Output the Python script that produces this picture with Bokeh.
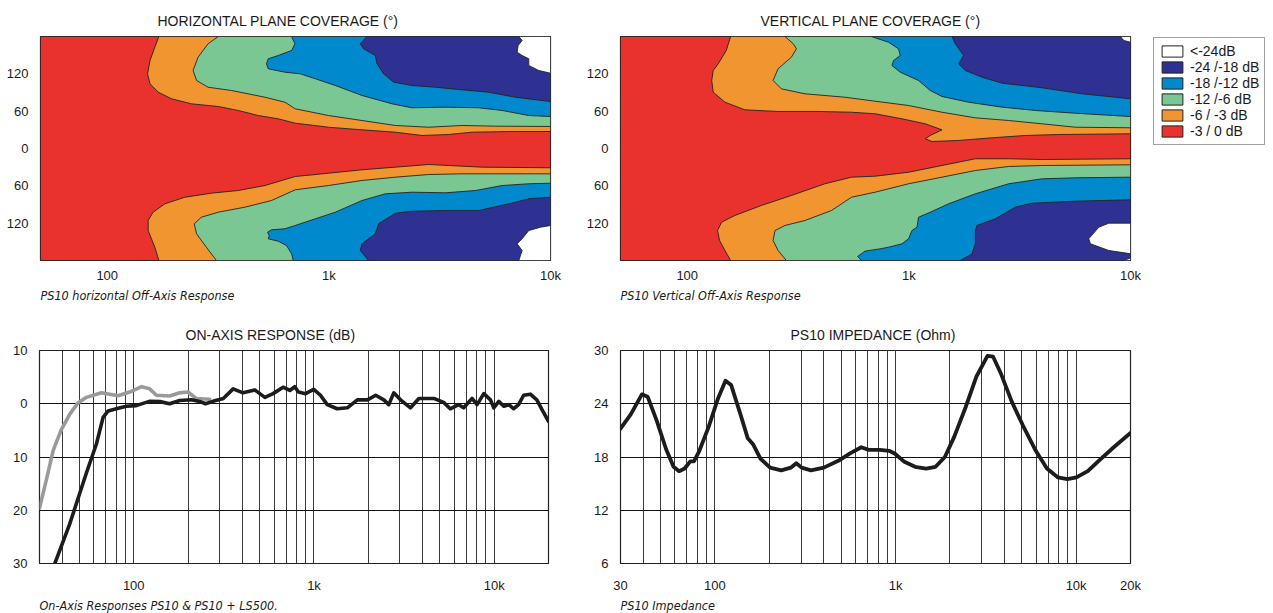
from bokeh.plotting import figure
from bokeh.models import Range1d, FixedTicker, Title, Legend, LegendItem
from bokeh.layouts import column, row
from bokeh.embed import file_html
from bokeh.resources import INLINE

FONT = "Liberation Sans"
CAP_FONT = "DejaVu Sans Condensed"
TXT = "#1a1a1a"

# ---------------- colours of the coverage bands ----------------
RED, ORANGE, GREEN, BLUE, DKBLUE, WHITE = "#E9322E", "#F19530", "#7BC794", "#0089CC", "#2E3192", "#FFFFFF"
LEGEND_LABELS = ["<-24dB", "-24 /-18 dB", "-18 /-12 dB", "-12 /-6 dB", "-6 / -3 dB", "-3 / 0 dB"]
LEGEND_COLORS = [WHITE, DKBLUE, BLUE, GREEN, ORANGE, RED]

COV_F_RANGE = (50, 10000)
COV_A_RANGE = (-180, 180)
COV_X_TICKS = [100, 1000, 10000]
COV_X_LABELS = ["100", "1k", "10k"]
COV_Y_TICKS = [-120, -60, 0, 60, 120]
COV_Y_LABELS = ["120", "60", "0", "60", "120"]

# ---------------- horizontal plane: band boundaries (Hz, degrees) ----------------
H_UP3_F = [171, 164, 156, 152, 156, 170, 195, 240, 317, 390, 480, 591, 705, 997, 1411, 1995, 2633, 3472, 4429, 6712, 10000]
H_UP3_A = [180, 162.8, 141.4, 120, 104, 90.5, 79.9, 71.8, 67.5, 61.1, 53, 47.7, 40.7, 34.2, 30, 26.2, 20.9, 22.5, 26.2, 27.3, 27.3]
H_LO3_F = [171, 164, 153, 153, 161, 182, 224, 295, 390, 515, 705, 997, 1411, 1995, 2820, 3472, 4914, 10000]
H_LO3_A = [-180, -158.6, -131.8, -115.7, -102.4, -88.9, -78.3, -71.8, -67.5, -59.5, -45, -39.7, -34.2, -30, -25.7, -27.3, -30, -31]
H_UP6_F = [317, 285, 257, 244, 253, 285, 364, 515, 634, 705, 997, 1411, 1995, 2820, 3992, 5643, 10000]
H_UP6_A = [180, 168.3, 146.7, 125.4, 109.3, 98.5, 93.2, 82.4, 74.4, 63.8, 53, 45, 37, 34.2, 37, 35.9, 35.4]
H_LO6_F = [311, 280, 253, 247, 266, 317, 418, 551, 705, 997, 1411, 1995, 2820, 3992, 5643, 10000]
H_LO6_A = [-180, -158.6, -137.1, -121, -110.4, -102.4, -94.3, -83.6, -66.4, -59.5, -51.4, -46.1, -41.8, -40.7, -40.7, -40.7]
H_UP12_F = [679, 703, 679, 591, 533, 523, 533, 634, 743, 869, 1069, 1411, 1928, 2373, 3355, 4745, 6050, 7978, 10000]
H_UP12_A = [180, 168.3, 157.5, 149.5, 144.2, 136.1, 128.1, 122.6, 120, 112, 101.3, 85.2, 71.8, 65.4, 66.4, 65.4, 61.1, 53, 51.4]
H_LO12_F = [691, 679, 644, 591, 533, 538, 529, 551, 634, 705, 869, 1069, 1411, 1797, 2373, 3355, 4584, 6050, 7978, 10000]
H_LO12_A = [-180, -169.2, -155.9, -149, -145.1, -139.8, -134.5, -130.7, -129, -123.7, -113, -102.4, -83.6, -72.8, -70.2, -71.2, -67.5, -59.5, -56.7, -55.8]
H_UP18_F = [1486, 1386, 1435, 1620, 1650, 1766, 1960, 2373, 3024, 3992, 5263, 6946, 10000]
H_UP18_A = [180, 168.3, 160.2, 149.5, 136.1, 120, 106.6, 101.3, 98.5, 94.3, 90.5, 82.4, 75.5]
H_LO18_F = [1511, 1386, 1411, 1620, 1677, 1995, 2373, 3355, 4745, 6480, 7980, 10000]
H_LO18_A = [-180, -163.9, -153.2, -137.1, -121, -104, -100.8, -99.6, -99.6, -88.9, -80.8, -78.3]
H_UP24_F = [7193, 7447, 7145, 7071, 7447, 7980, 7980, 8852, 10000]
H_UP24_A = [180, 173.6, 165.5, 154.8, 149.5, 144.2, 133.4, 125.4, 121]
H_LO24_F = [10000, 9010, 7980, 7447, 7071, 7447, 7193]
H_LO24_A = [-123.7, -126.5, -131.8, -145.1, -153.2, -163.9, -180]

# ---------------- vertical plane: band boundaries (Hz, degrees) ----------------
V_UP3_F = [157, 150, 138, 131, 129, 131, 148, 182, 257, 390, 551, 705, 931, 1186, 1411, 1249, 1186, 1272, 1677, 2373, 3355, 4745, 10000]
V_UP3_A = [180, 157.5, 136.1, 125.4, 109.3, 90.5, 74.4, 62.2, 59.5, 59.5, 58.3, 55.8, 47.7, 39.7, 30, 20.9, 15.6, 11.3, 12.9, 17.2, 20.9, 22.5, 23.6]
V_LO3_F = [157, 148, 140, 137, 143, 164, 216, 295, 418, 551, 705, 997, 1411, 1995, 2820, 3992, 10000]
V_LO3_A = [-180, -163.9, -147.9, -131.8, -118.4, -107.7, -91.6, -75.5, -56.7, -46.1, -44.5, -38.1, -27.3, -16.5, -16.5, -17.7, -16.5]
V_UP6_F = [276, 301, 311, 295, 257, 244, 266, 340, 515, 705, 997, 1411, 1995, 2820, 3992, 5643, 10000]
V_UP6_A = [180, 168.3, 160.2, 146.7, 128.1, 109.3, 95.9, 87.9, 82.4, 76, 69.1, 58.3, 49.3, 45, 39.7, 34.2, 33.3]
V_LO6_F = [280, 257, 244, 249, 276, 340, 448, 551, 705, 997, 1411, 1995, 2820, 3992, 10000]
V_LO6_A = [-180, -163.9, -147.9, -131.8, -123.7, -115.7, -99.6, -78.3, -70.2, -56.7, -46.1, -35.4, -28.9, -27.3, -26.2]
V_UP12_F = [677, 705, 810, 898, 915, 853, 839, 915, 1106, 1249, 1411, 1861, 2633, 3723, 5643, 10000]
V_UP12_A = [180, 177.9, 170.8, 160.2, 149.5, 141.4, 133.4, 122.6, 109.3, 93.2, 83.6, 74.4, 66.4, 61.1, 56.7, 51.4]
V_LO12_F = [612, 587, 634, 743, 810, 931, 997, 1033, 1088, 1106, 1249, 1511, 1995, 2820, 3992, 5643, 10000]
V_LO12_A = [-180, -173.6, -165, -161.2, -158.6, -153.2, -145.1, -131.8, -126.5, -110.4, -102.4, -88.9, -72.8, -56.7, -48.7, -47.1, -46.1]
V_UP18_F = [1566, 1620, 1767, 1677, 1798, 2139, 2633, 3992, 6050, 10000]
V_UP18_A = [180, 168.3, 149.5, 136.1, 125.4, 114.6, 105, 97.6, 87.9, 79.9]
V_LO18_F = [1707, 1928, 1995, 1995, 2030, 2455, 3024, 3597, 5643, 10000]
V_LO18_A = [-180, -169.2, -153.2, -131.8, -123.7, -113, -94.3, -87.9, -84.7, -82.4]
V_UP24_F = [9010, 9325, 10000]
V_UP24_A = [180, 173.6, 170.8]
V_LO24_F = [10000, 7978, 7191, 6480, 6596, 7978, 10000]
V_LO24_A = [-120, -120, -126.5, -145.1, -153.2, -163.9, -169.2]
V_LO24B_F = [9300, 10000]
V_LO24B_A = [-180, -176]

# ---------------- on-axis response ----------------
ON_F_RANGE = (30, 20000)
ON_DB_RANGE = (-30, 10)
ON_Y_TICKS = [-30, -20, -10, 0, 10]
ON_Y_LABELS = ["30", "20", "10", "0", "10"]
PS10_F = [36.5, 44.1, 54.6, 62.0, 67.6, 72.1, 80, 91, 103, 122, 140, 158, 180, 209, 232, 250, 275, 314, 356, 404, 469, 534, 593,
          674, 734, 782, 820, 897, 997, 1086, 1184, 1344, 1530, 1740, 1980, 2200, 2440, 2600, 2770, 3020, 3430, 3820, 4620,
          5240, 5700, 6350, 6770, 7530, 8030, 8750, 9530, 9940, 10600, 11300, 12060, 12800, 13650, 14560, 15850, 17230,
          18380, 20000]
PS10_DB = [-30, -22.6, -13, -7.6, -2.56, -1.35, -0.94, -0.46, -0.35, 0.44, 0.4, 0.0, 0.6, 0.75, 0.44, 0.0, 0.45, 1.0, 2.8, 2.05,
           2.6, 1.2, 1.9, 3.1, 2.5, 3.2, 2.2, 1.9, 2.7, 1.6, -0.17, -0.94, -0.76, 0.73, 0.73, 1.6, 0.73, -0.17, 2.05, 0.73,
           -0.76, 1.0, 1.0, 0.26, -0.94, -0.17, -0.76, 1.0, -0.17, 1.9, 0.73, -0.76, 0.44, -0.46, -0.17, -0.94, -0.17, 1.6,
           1.8, 0.73, -1.07, -3.3]
LS500_F = [30, 32.8, 35.7, 39.6, 44.1, 49.0, 54.6, 66.2, 81.8, 95.0, 110.5, 122.5, 133.7, 158, 180, 200, 222, 264]
LS500_DB = [-19.6, -14.2, -8.8, -4.9, -2.0, 0.13, 1.2, 2.05, 1.5, 2.2, 3.2, 2.8, 1.6, 1.45, 2.05, 2.2, 1.0, 0.85]

# ---------------- impedance ----------------
IMP_Z_RANGE = (6, 30)
IMP_Y_TICKS = [6, 12, 18, 24, 30]
IMP_F = [30, 34.2, 39.4, 42.4, 47.6, 53.6, 59, 63.3, 68, 73, 76.5, 82, 92.3, 104, 114.4, 123, 138.5, 152, 163, 179, 202, 233,
         263, 282, 302, 340, 401, 485, 560, 646, 710, 819, 921, 989, 1112, 1283, 1478, 1665, 1876, 2115, 2438, 2810, 3230,
         3470, 3815, 4390, 5060, 5980, 6890, 7940, 8940, 10040, 11600, 13380, 16150, 20000]
IMP_Z = [21.2, 22.8, 25.06, 24.8, 22.1, 18.9, 16.9, 16.4, 16.7, 17.5, 17.5, 18.7, 21.4, 24.6, 26.6, 26.1, 22.8, 20.1, 19.4,
         17.8, 16.8, 16.5, 16.8, 17.3, 16.8, 16.5, 16.8, 17.6, 18.4, 19.1, 18.8, 18.8, 18.7, 18.4, 17.5, 16.9, 16.7, 16.9,
         18.0, 20.3, 23.55, 27.1, 29.4, 29.3, 27.5, 24.3, 21.6, 18.7, 16.7, 15.7, 15.5, 15.7, 16.4, 17.6, 19.1, 20.7]

GRID_F = [40, 50, 60, 70, 80, 90, 100, 200, 300, 400, 500, 600, 700, 800, 900, 1000, 2000, 3000, 4000, 5000, 6000, 7000,
          8000, 9000, 10000]


def base_fig(width, height, lb, rb, tb, bb, xr, yr, title, title_offset, caption, x_standoff, cap_standoff):
    p = figure(width=width, height=height, x_axis_type="log", x_range=Range1d(*xr), y_range=Range1d(*yr),
               output_backend="svg", toolbar_location=None, min_border_left=lb, min_border_right=rb,
               min_border_top=tb, min_border_bottom=bb)
    p.add_layout(Title(text=title, align="left", offset=title_offset, text_font=FONT, text_font_size="14px",
                       text_font_style="normal", text_color=TXT, standoff=15), "above")
    p.add_layout(Title(text=caption, align="left", text_font=CAP_FONT, text_font_size="12.5px",
                       text_font_style="italic", text_color=TXT, standoff=cap_standoff), "below")
    p.axis.major_tick_line_color = None
    p.axis.minor_tick_line_color = None
    p.axis.axis_line_color = None
    p.axis.major_label_text_font = FONT
    p.axis.major_label_text_font_size = "13px"
    p.axis.major_label_text_color = TXT
    p.yaxis.major_label_standoff = 6
    p.xaxis.major_label_standoff = x_standoff
    p.outline_line_color = "#222222"
    p.outline_line_width = 1.2
    p.background_fill_color = "white"
    p.border_fill_color = "white"
    return p


def coverage_fig(width, rb, title, title_offset, caption, bands):
    p = base_fig(width, 310, 40, rb, 36, 50, COV_F_RANGE, COV_A_RANGE, title, title_offset, caption, 1, 0)
    p.grid.visible = False
    p.xaxis.ticker = FixedTicker(ticks=COV_X_TICKS)
    p.xaxis.major_label_overrides = dict(zip(COV_X_TICKS, COV_X_LABELS))
    p.yaxis.ticker = FixedTicker(ticks=COV_Y_TICKS)
    p.yaxis.major_label_overrides = dict(zip(COV_Y_TICKS, COV_Y_LABELS))
    f0, f1 = COV_F_RANGE
    a0, a1 = COV_A_RANGE
    p.patch([f0, f1, f1, f0], [a0, a0, a1, a1], fill_color=RED, line_color="#222222", line_width=0.9)
    for f, a, corner, color in bands:
        if corner is None:
            xs, ys = list(f), list(a)
        else:
            xs, ys = list(f) + [f1], list(a) + [corner]
        p.patch(xs, ys, fill_color=color, line_color="#222222", line_width=0.9)
    return p


TOP, BOT = COV_A_RANGE[1], COV_A_RANGE[0]
h_bands = [
    (H_UP3_F, H_UP3_A, TOP, ORANGE), (H_LO3_F, H_LO3_A, BOT, ORANGE),
    (H_UP6_F, H_UP6_A, TOP, GREEN), (H_LO6_F, H_LO6_A, BOT, GREEN),
    (H_UP12_F, H_UP12_A, TOP, BLUE), (H_LO12_F, H_LO12_A, BOT, BLUE),
    (H_UP18_F, H_UP18_A, TOP, DKBLUE), (H_LO18_F, H_LO18_A, BOT, DKBLUE),
    (H_UP24_F, H_UP24_A, TOP, WHITE), (H_LO24_F, H_LO24_A, BOT, WHITE),
]
v_bands = [
    (V_UP3_F, V_UP3_A, TOP, ORANGE), (V_LO3_F, V_LO3_A, BOT, ORANGE),
    (V_UP6_F, V_UP6_A, TOP, GREEN), (V_LO6_F, V_LO6_A, BOT, GREEN),
    (V_UP12_F, V_UP12_A, TOP, BLUE), (V_LO12_F, V_LO12_A, BOT, BLUE),
    (V_UP18_F, V_UP18_A, TOP, DKBLUE), (V_LO18_F, V_LO18_A, BOT, DKBLUE),
    (V_UP24_F, V_UP24_A, TOP, WHITE), (V_LO24_F, V_LO24_A, None, WHITE),
    (V_LO24B_F, V_LO24B_A, BOT, WHITE),
]

p1 = coverage_fig(580, 30, "HORIZONTAL PLANE COVERAGE (°)", 117, "PS10 horizontal Off-Axis Response", h_bands)
p2 = coverage_fig(562, 12, "VERTICAL PLANE COVERAGE (°)", 140, "PS10 Vertical Off-Axis Response", v_bands)

# legend panel (its own small figure, no axes; the swatch renderers are hidden, only the legend shows)
pl = figure(width=131, height=310, x_axis_type=None, y_axis_type=None, x_range=Range1d(0, 1), y_range=Range1d(0, 1),
            output_backend="svg", toolbar_location=None, min_border=0, outline_line_color=None)
pl.grid.visible = False
items = []
for lab, col in zip(LEGEND_LABELS, LEGEND_COLORS):
    r = pl.quad(left=[0], right=[0], top=[0], bottom=[0], fill_color=col, line_color="#222222", line_width=1,
                visible=False)
    items.append(LegendItem(label=lab, renderers=[r]))
legend = Legend(items=items, location=(11, 115), label_text_font=FONT, label_text_font_size="14px",
                label_text_color=TXT, glyph_width=26, glyph_height=14, label_height=14, spacing=0, padding=5,
                margin=0, label_standoff=5, border_line_color="#444444", border_line_width=1,
                background_fill_color="white", background_fill_alpha=1)
pl.add_layout(legend, "center")


def line_fig(width, lb, rb, xr, yr, yticks, ylabels, xticks, xlabels, title, title_offset, caption):
    p = base_fig(width, 303, lb, rb, 40, 40, xr, yr, title, title_offset, caption, 8, 1)
    p.xaxis.ticker = FixedTicker(ticks=xticks)
    p.xaxis.major_label_overrides = dict(zip(xticks, xlabels))
    p.yaxis.ticker = FixedTicker(ticks=yticks)
    p.yaxis.major_label_overrides = dict(zip(yticks, ylabels))
    p.xgrid.ticker = FixedTicker(ticks=GRID_F)
    p.xgrid.grid_line_color = "#3a3a3a"
    p.xgrid.grid_line_width = 1
    p.ygrid.ticker = FixedTicker(ticks=yticks)
    p.ygrid.grid_line_color = "#111111"
    p.ygrid.grid_line_width = 1
    return p


p3 = line_fig(580, 39, 32, ON_F_RANGE, ON_DB_RANGE, ON_Y_TICKS, ON_Y_LABELS, [100, 1000, 10000],
              ["100", "1k", "10k"], "ON-AXIS RESPONSE (dB)", 146, "On-Axis Responses PS10 & PS10 + LS500.")
p3.line(LS500_F, LS500_DB, line_color="#9a9a9a", line_width=3.6, line_join="round", line_cap="round")
p3.line(PS10_F, PS10_DB, line_color="#1c1c1c", line_width=3.6, line_join="round", line_cap="round")

p4 = line_fig(693, 40, 143, ON_F_RANGE, IMP_Z_RANGE, IMP_Y_TICKS, [str(t) for t in IMP_Y_TICKS],
              [30, 100, 1000, 10000, 20000], ["30", "100", "1k", "10k", "20k"], "PS10 IMPEDANCE (Ohm)", 170,
              "PS10 Impedance")
p4.line(IMP_F, IMP_Z, line_color="#1c1c1c", line_width=3.8, line_join="round", line_cap="round")

layout = column(row(p1, p2, pl, spacing=0), row(p3, p4, spacing=0), spacing=0)
open("out.html", "w").write(file_html(layout, INLINE))
